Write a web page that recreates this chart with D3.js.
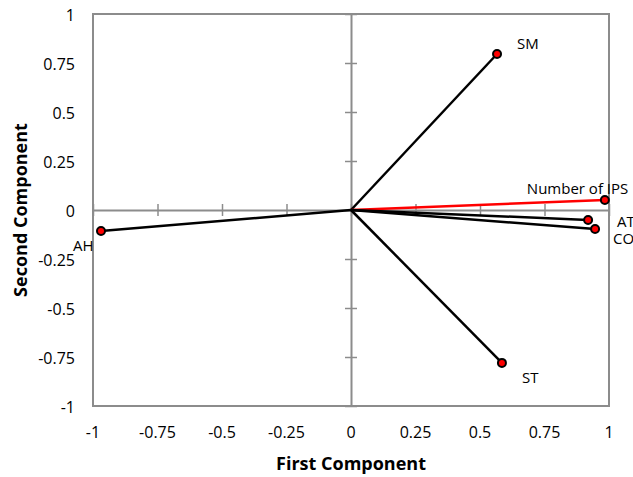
<!DOCTYPE html>
<html>
<head>
<meta charset="utf-8">
<script src="https://cdn.jsdelivr.net/npm/d3@7"></script>
<style>
  body { margin: 0; background: #fff; overflow: hidden; }
  text { font-family: "Open Sans", "Liberation Sans", sans-serif; fill: #000; }
</style>
</head>
<body>
<div id="chart"></div>
<script>
// loadings on the first two components
const variables = ["SM", "Number of IPS", "AT", "CO", "ST", "AH"];
const firstComp = [0.566, 0.984, 0.919, 0.946, 0.585, -0.969];
const secondComp = [0.796, 0.051, -0.051, -0.097, -0.780, -0.107];
const highlighted = ["Number of IPS"];
const tickValues = [-1, -0.75, -0.5, -0.25, 0, 0.25, 0.5, 0.75, 1];

const width = 633, height = 477;
const margin = { top: 14, right: 24, bottom: 71, left: 93 };

const svg = d3.select("#chart").append("svg")
    .attr("width", width)
    .attr("height", height);

const x = d3.scaleLinear().domain([-1, 1]).range([margin.left, width - margin.right]);
const y = d3.scaleLinear().domain([-1, 1]).range([height - margin.bottom, margin.top]);

const gray = "#8c8c8c";

// plot border
svg.append("rect")
    .attr("x", x(-1)).attr("y", y(1))
    .attr("width", x(1) - x(-1)).attr("height", y(-1) - y(1))
    .attr("fill", "none").attr("stroke", gray).attr("stroke-width", 2);

// axes through the origin, ticks crossing
const xAxis = svg.append("g")
    .attr("transform", `translate(0,${y(0)})`)
    .call(d3.axisBottom(x).tickValues(tickValues).tickSizeOuter(0).tickFormat(""));
const yAxis = svg.append("g")
    .attr("transform", `translate(${x(0)},0)`)
    .call(d3.axisLeft(y).tickValues(tickValues).tickSizeOuter(0).tickFormat(""));

[xAxis, yAxis].forEach(g => {
    g.select(".domain").attr("stroke", gray).attr("stroke-width", 2);
    g.selectAll(".tick line").attr("stroke", gray).attr("stroke-width", 1.5);
});
xAxis.selectAll(".tick line").attr("y1", -6).attr("y2", 6);
yAxis.selectAll(".tick line").attr("x1", -6).attr("x2", 6);

// tick labels at the plot edges
svg.append("g").selectAll("text")
    .data(tickValues)
    .enter().append("text")
    .attr("x", d => x(d))
    .attr("y", y(-1) + 32)
    .attr("text-anchor", "middle")
    .attr("font-size", 16)
    .text(d => String(d));

svg.append("g").selectAll("text")
    .data(tickValues)
    .enter().append("text")
    .attr("x", 75)
    .attr("y", d => y(d) + 6.5)
    .attr("text-anchor", "end")
    .attr("font-size", 16)
    .text(d => String(d));

// axis titles
svg.append("text")
    .attr("x", x(0)).attr("y", 470)
    .attr("text-anchor", "middle")
    .attr("font-size", 18).attr("font-weight", "bold")
    .text("First Component");

svg.append("text")
    .attr("transform", `translate(27,${y(0)}) rotate(-90)`)
    .attr("text-anchor", "middle")
    .attr("font-size", 18).attr("font-weight", "bold")
    .text("Second Component");

const data = variables.map((name, i) => ({ name, pc1: firstComp[i], pc2: secondComp[i] }));

// vectors
svg.append("g").selectAll("line")
    .data(data)
    .enter().append("line")
    .attr("x1", x(0)).attr("y1", y(0))
    .attr("x2", d => x(d.pc1)).attr("y2", d => y(d.pc2))
    .attr("stroke", d => highlighted.includes(d.name) ? "#ff0000" : "#000")
    .attr("stroke-width", 2.5);

svg.append("g").selectAll("circle")
    .data(data)
    .enter().append("circle")
    .attr("cx", d => x(d.pc1)).attr("cy", d => y(d.pc2))
    .attr("r", 4)
    .attr("fill", "#ff0000")
    .attr("stroke", "#000")
    .attr("stroke-width", 2);

// labels (offset from the marker)
const labelOffset = {
    "SM": [20, -5],
    "Number of IPS": [-78, -6],
    "AT": [29, 7],
    "CO": [18, 15],
    "ST": [20, 20],
    "AH": [-28, 20]
};

svg.append("g").selectAll("text")
    .data(data)
    .enter().append("text")
    .attr("x", d => x(d.pc1) + labelOffset[d.name][0])
    .attr("y", d => y(d.pc2) + labelOffset[d.name][1])
    .attr("font-size", 15)
    .text(d => d.name);
</script>
</body>
</html>
